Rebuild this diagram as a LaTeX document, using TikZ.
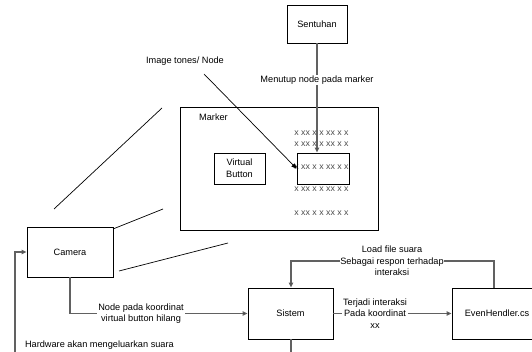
\documentclass[tikz,border=0pt]{standalone}
\usepackage{fontspec}
\setmainfont{Liberation Sans}
\usetikzlibrary{arrows.meta}
\tikzset{
  lbl/.style={font=\fontsize{9.2}{11.6}\selectfont, inner sep=0.8pt, align=center},
  box/.style={draw=black, line width=0.9pt, lbl},
  conn/.style={draw=black!62, line width=1.1pt},
  tip/.style={-{Triangle[length=5pt,width=4.5pt,fill=black]}},
  thin/.style={draw=black, line width=0.7pt},
  xrow/.style={font=\fontsize{8.8}{10}\selectfont, text=black!70, inner sep=0pt},
  cut/.style={lbl, fill=white}
}
\begin{document}
\begin{tikzpicture}[x=1pt,y=-1pt]
\useasboundingbox (0,0) rectangle (532,352);
\clip (0,0) rectangle (532,352);

% boxes
\node[box, minimum width=60pt, minimum height=38pt] (sent) at (317,24) {Sentuhan};
\node[draw=black, line width=0.9pt, minimum width=198pt, minimum height=123pt, inner sep=0pt] (marker) at (279,168.5) {};
\node[lbl, anchor=center] (mlabel) at (213.5,117) {Marker};
\node[box, minimum width=51pt, minimum height=31pt] (vb) at (239.5,168.5) {Virtual\\Button};

% rows of node points on the marker
\node[xrow] (r1) at (321.5,133) {x xx x x xx x x};
\node[xrow] (r2) at (321.5,144) {x xx x x xx x x};
\node[xrow] (r3) at (321.5,167.5) {x xx x x xx x x};
\node[xrow] (r4) at (321.5,189) {x xx x x xx x x};
\node[xrow] (r5) at (321.5,213) {x xx x x xx x x};
\node[draw=black, line width=0.9pt, minimum width=52pt, minimum height=31pt, inner sep=0pt] (nb) at (323,168.5) {};

\node[box, minimum width=86pt, minimum height=50pt] (cam) at (70,252) {Camera};
\node[box, minimum width=85pt, minimum height=51pt] (sis) at (290.5,313.5) {Sistem};
\node[box, minimum width=90pt, minimum height=51pt] (even) at (497,313.5) {EvenHendler.cs};

% camera field of view
\coordinate (f1a) at (54,209);  \coordinate (f1b) at (162,108);
\coordinate (f2a) at (113,229); \coordinate (f2b) at (163,209);
\coordinate (f3a) at (119,271); \coordinate (f3b) at (228,243);
\draw[thin] (f1a) -- (f1b);
\draw[thin] (f2a) -- (f2b);
\draw[thin] (f3a) -- (f3b);

% touch on the marker
\draw[conn, tip] (sent.south) -- (sent.south |- nb.north);
\node[cut] (touch) at (317,80) {Menutup node pada marker};

% image tones
\node[lbl] (tones) at (185,61) {Image tones/ Node};
\coordinate (tonesstart) at (204,74);
\draw[thin, tip] (tonesstart) -- (nb.west);

% camera to system
\coordinate (cbend) at (70,313.5);
\draw[conn, tip] (cam.south) -- (cbend) -- (sis.west);
\node[cut] (lost) at (141,313.5) {Node pada koordinat\\virtual button hilang};

% system to event handler
\draw[conn, tip] (sis.east) -- (even.west);
\node[cut] (inter) at (375,313.5) {Terjadi interaksi\\Pada koordinat\\xx};

% event handler back to system
\coordinate (e1) at (494,261);
\coordinate (e2) at (291,261);
\draw[conn, tip] (even.north -| e1) -- (e1) -- (e2) -- (sis.north -| e2);
\node[cut] (load) at (392,261) {Load file suara\\Sebagai respon terhadap\\interaksi};

% sound output loop
\coordinate (sdown) at (291,352);
\draw[conn] (sis.south -| sdown) -- (sdown);
\coordinate (hw) at (15,352);
\coordinate (hwup) at (15,252);
\draw[conn, tip] (hw) -- (hwup) -- (cam.west);
\node[lbl, anchor=west] (hwtext) at (24,345) {Hardware akan mengeluarkan suara};
\end{tikzpicture}
\end{document}
